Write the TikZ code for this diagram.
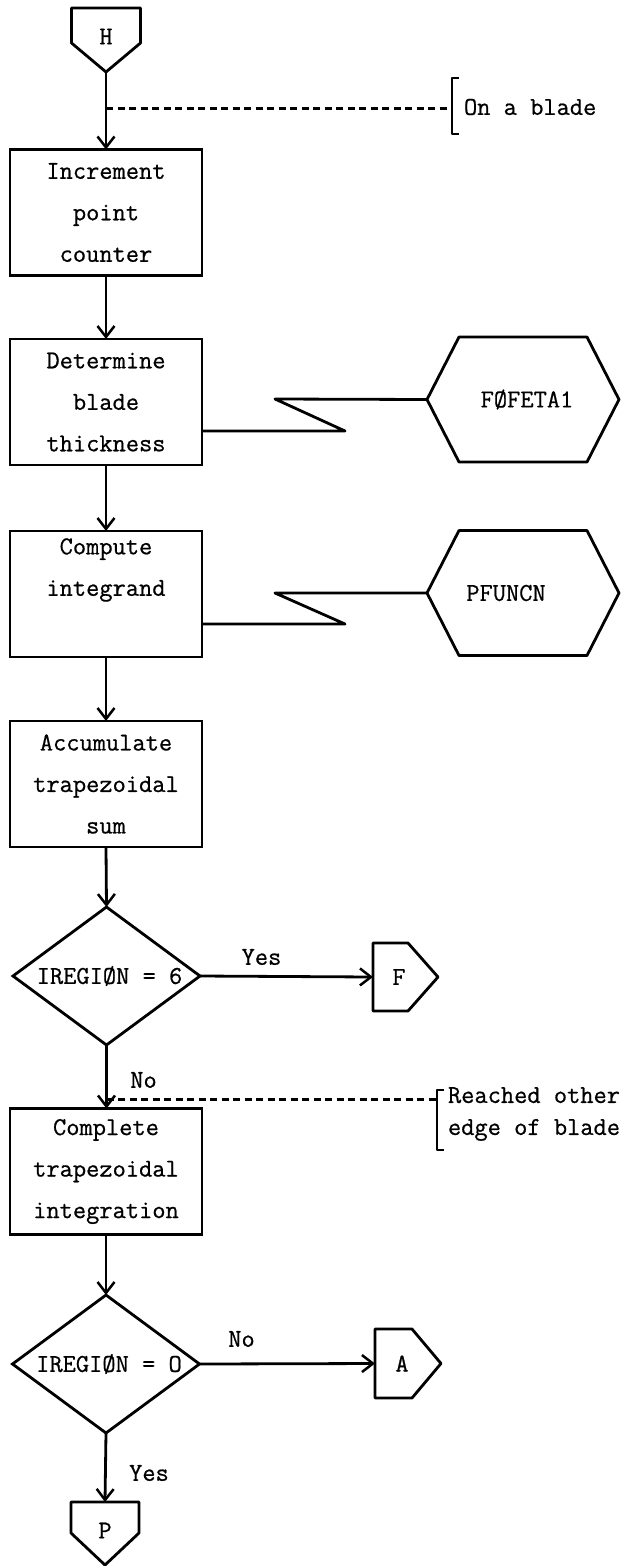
\documentclass[tikz,border=0pt]{standalone}
\usepackage{fontspec}
\usetikzlibrary{arrows.meta,calc,shapes.geometric}
\newfontfamily\twfont{Latin Modern Mono}[FakeBold=0.7]

% outline helpers for the connector and subroutine symbols
\newcommand{\downtag}[2]{% off-page connector pointing down
  \draw[line] (#1.north west) -- (#1.north east) -- ([yshift=-#2]#1.north east)
    -- (#1.south) -- ([yshift=-#2]#1.north west) -- cycle;}
\newcommand{\righttag}[2]{% off-page connector pointing right
  \draw[line] (#1.north west) -- ([xshift=-#2]#1.north east) -- (#1.east)
    -- ([xshift=-#2]#1.south east) -- (#1.south west) -- cycle;}
\newcommand{\hexout}[1]{% predefined-process hexagon
  \draw[line] (#1.west) -- ([xshift=32pt]#1.north west) -- ([xshift=-32pt]#1.north east)
    -- (#1.east) -- ([xshift=-32pt]#1.south east) -- ([xshift=32pt]#1.south west) -- cycle;}

\begin{document}
\begin{tikzpicture}[x=1pt,y=1pt,
  every node/.style={font=\fontsize{25.7}{41.5}\selectfont\twfont, inner sep=0pt, outer sep=0pt},
  line/.style={line width=2.8pt, line join=round},
  flow/.style={line, -{Straight Barb[length=11pt,width=17pt,line width=2.5pt]}},
  dashline/.style={line width=2.3pt, dash pattern=on 7pt off 4.5pt},
  procbox/.style={draw, line width=2.8pt, minimum width=192pt, minimum height=126pt, align=center},
  decision/.style={diamond, draw, line width=2.8pt, minimum width=187pt, minimum height=138pt},
  hexbox/.style={minimum width=192pt, minimum height=125pt},
  note/.style={align=left, font=\fontsize{25.7}{32}\selectfont\twfont},
  lbl/.style={}
]
\useasboundingbox (0,0) rectangle (634,-1566);

% entry connector
\node[minimum width=69pt, minimum height=64pt] (H) at (106,-40) {\raisebox{7pt}{H}};
\downtag{H}{35pt}

% process boxes
\node[procbox] (b1) at (106,-212.5) {Increment\\point\\counter};
\node[procbox] (b2) at (106,-402) {Determine\\blade\\thickness};
\node[procbox] (b3) at (106,-594) {Compute\\integrand\\\strut};
\node[procbox] (b4) at (106,-784) {Accumulate\\trapezoidal\\sum};
\node[procbox] (b5) at (106,-1171.5) {Complete\\trapezoidal\\integration};

% subroutines
\node[hexbox] (hex1) at (523,-399.5) {\kern8pt F\O FETA1};
\hexout{hex1}
\node[hexbox] (hex2) at (523,-593) {\kern-34pt PFUNCN};
\hexout{hex2}

% decisions
\node[decision] (d1) at (106.5,-976) {\makebox[0pt]{\kern6pt IREGI\O N = 6}};
\node[decision] (d2) at (106,-1364) {\makebox[0pt]{\kern6pt IREGI\O N = O}};

% exit connectors
\node[minimum width=65pt, minimum height=68pt] (F) at (405.5,-977) {\kern-13pt F};
\righttag{F}{30pt}
\node[minimum width=66pt, minimum height=69pt] (A) at (408,-1363.5) {\kern-12pt A};
\righttag{A}{29pt}
\node[minimum width=68pt, minimum height=63pt] (P) at (105,-1533.5) {\raisebox{6pt}{P}};
\downtag{P}{31pt}

% main flow
\draw[flow] (H.south) -- (H.south |- b1.north) coordinate[pos=0.47] (c1);
\draw[flow] (b1.south) -- (b2.north);
\draw[flow] (b2.south) -- (b3.north);
\draw[flow] (b3.south) -- (b4.north);
\draw[flow] (b4.south) -- (d1.north);
\draw[flow] (d1.east) -- (F.west);
\draw[flow] (d1.south) -- (d1.south |- b5.north) coordinate[pos=0.86] (c2);
\draw[flow] (b5.south) -- (d2.north);
\draw[flow] (d2.east) -- (A.west);
\draw[flow] (d2.south) -- (P.north);

% calls to subroutines
\draw[line] ([yshift=-29pt]b2.east) -- ++(143,0) -- ++(-70,32) -- (hex1.west);
\draw[line] ([yshift=-30pt]b3.east) -- ++(143,0) -- ++(-70,31) -- (hex2.west);

% branch labels
\node[lbl] (yes1) at (261.5,-957) {Yes};
\node[lbl] (no1) at (143.5,-1080) {No};
\node[lbl] (no2) at (241.5,-1339) {No};
\node[lbl] (yes2) at (149,-1473) {Yes};

% annotations
\node[note, anchor=west] (n1) at (464,-107) {On a blade};
\coordinate (br1) at ([xshift=-12pt]n1.west);
\draw[line, line width=2.3pt] ([xshift=7pt,yshift=29pt]br1) -- ([yshift=29pt]br1)
  -- ([yshift=-27pt]br1) -- ([xshift=7pt,yshift=-27pt]br1);
\draw[dashline] (c1) -- (c1 -| br1);

\node[note, anchor=west] (n2) at (448,-1114) {Reached other\\edge of blade};
\coordinate (br2) at ([xshift=-11pt,yshift=-6pt]n2.west);
\draw[line, line width=2.3pt] ([xshift=7pt,yshift=30pt]br2) -- ([yshift=30pt]br2)
  -- ([yshift=-30pt]br2) -- ([xshift=7pt,yshift=-30pt]br2);
\draw[dashline] (c2) -- (c2 -| br2);
\end{tikzpicture}
\end{document}
